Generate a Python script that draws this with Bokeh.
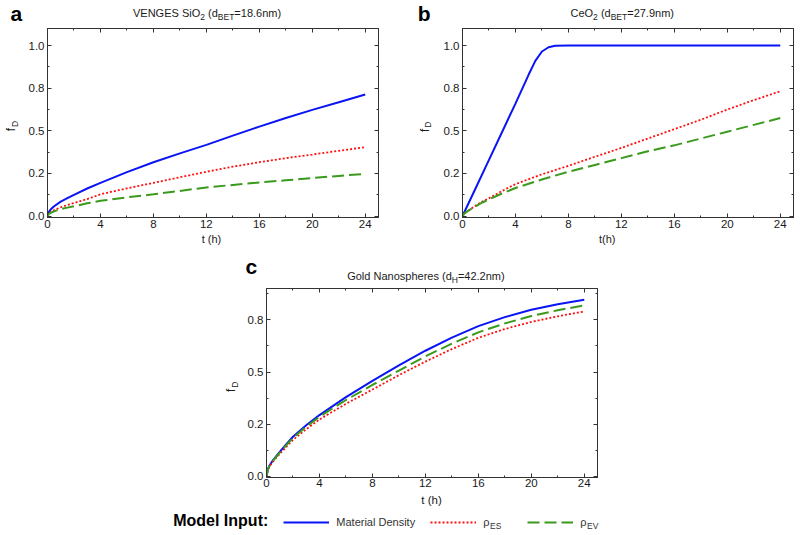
import math
from bokeh.plotting import figure
from bokeh.models import FixedTicker, LinearAxis, Label, Legend, LegendItem, Range1d
from bokeh.layouts import column, row
from bokeh.embed import file_html
from bokeh.resources import INLINE

# ---------------- data ----------------
t = [0, 0.1, 0.25, 0.5, 1, 1.5, 2, 3, 4, 6, 8, 10, 12, 14, 16, 18, 20, 22, 24]

a_md = [0, 0.025, 0.04, 0.058, 0.085, 0.105, 0.125, 0.162, 0.195, 0.258, 0.316, 0.368, 0.418, 0.472, 0.525, 0.575, 0.623, 0.668, 0.713]
a_es = [0, 0.015, 0.025, 0.035, 0.052, 0.065, 0.077, 0.1, 0.128, 0.163, 0.195, 0.228, 0.26, 0.29, 0.316, 0.34, 0.361, 0.383, 0.404]
a_ev = [0, 0.012, 0.02, 0.028, 0.042, 0.05, 0.058, 0.075, 0.09, 0.11, 0.128, 0.148, 0.168, 0.183, 0.197, 0.21, 0.223, 0.236, 0.248]

t_b_md = [0, 1, 2, 3, 4, 5, 5.5, 6, 6.5, 7, 8, 12, 16, 20, 24]
b_md = [0, 0.165, 0.33, 0.495, 0.66, 0.83, 0.91, 0.965, 0.99, 0.999, 1.0, 1.0, 1.0, 1.0, 1.0]
b_es = [0, 0.012, 0.022, 0.035, 0.062, 0.085, 0.105, 0.148, 0.188, 0.245, 0.295, 0.348, 0.4, 0.455, 0.51, 0.565, 0.625, 0.68, 0.732]
b_ev = [0, 0.012, 0.022, 0.035, 0.058, 0.08, 0.098, 0.133, 0.165, 0.215, 0.26, 0.3, 0.34, 0.38, 0.415, 0.455, 0.495, 0.535, 0.575]

c_md = [0, 0.035, 0.055, 0.078, 0.118, 0.155, 0.19, 0.245, 0.294, 0.38, 0.458, 0.532, 0.602, 0.665, 0.72, 0.763, 0.798, 0.825, 0.846]
c_es = [0, 0.032, 0.05, 0.072, 0.108, 0.142, 0.175, 0.226, 0.273, 0.348, 0.416, 0.485, 0.55, 0.61, 0.664, 0.706, 0.74, 0.767, 0.79]
c_ev = [0, 0.034, 0.053, 0.076, 0.114, 0.15, 0.185, 0.238, 0.286, 0.366, 0.438, 0.507, 0.575, 0.636, 0.69, 0.733, 0.768, 0.796, 0.819]

x_ticks = [0, 4, 8, 12, 16, 20, 24]
x_tick_labels = ["0", "4", "8", "12", "16", "20", "24"]
x_minor = [2, 6, 10, 14, 18, 22]
y_ticks_ab = [0, 0.25, 0.5, 0.75, 1]
y_tick_labels_ab = ["0.0", "0.2", "0.5", "0.8", "1.0"]
y_ticks_c = [0, 0.25, 0.5, 0.75]
y_tick_labels_c = ["0.0", "0.2", "0.5", "0.8"]
y_minor = [0.125, 0.375, 0.625, 0.875]

legend_labels = ["Material Density", "ρ", "ρ"]

# ---------------- style / geometry ----------------
FONT = "Liberation Sans"
BLUE = "#0a14f5"
RED = "#ff1010"
GREEN = "#3a9a1c"
AX = "#333333"
TXT = "#1a1a1a"
FW, FH = 331, 189
XR = (0, 25)
YR_AB = (-0.008, 1.1)
YR_C = (-0.005, 0.9)
RED_DASH = "2 2"
GREEN_DASH = "12 5"
MID = 0.35  # baseline-to-middle distance, in em

AW = {' ': 278, 'V': 667, 'E': 667, 'N': 722, 'G': 778, 'S': 667, 'i': 222, 'O': 778,
      '(': 333, ')': 333, 'd': 556, '=': 584, '.': 278, 'n': 556, 'm': 833, 'C': 722,
      'e': 556, 'o': 556, 'l': 222, 'a': 556, 'p': 556, 'h': 556, 'r': 333, 's': 500,
      'B': 667, 'T': 611, 'H': 722}


def tw(s, size):
    return sum(AW.get(c, 556) for c in s) / 1000.0 * size


def mk_axis(ticks, minor, labels, show, standoff):
    ax = LinearAxis(ticker=FixedTicker(ticks=ticks, minor_ticks=minor))
    ax.major_tick_in = 4
    ax.major_tick_out = 0
    ax.minor_tick_in = 2
    ax.minor_tick_out = 0
    ax.axis_line_color = AX
    ax.major_tick_line_color = AX
    ax.minor_tick_line_color = AX
    if show:
        ax.major_label_overrides = {k: v for k, v in zip(ticks, labels)}
        ax.major_label_text_font = FONT
        ax.major_label_text_font_size = "11.5px"
        ax.major_label_text_color = TXT
        ax.major_label_standoff = standoff
    else:
        ax.major_label_overrides = {k: "" for k in ticks}
        ax.major_label_text_font_size = "0px"
        ax.major_label_standoff = 0
    return ax


def panel(lb, tb, rb, bb, yr, yt, ylab, xstand):
    p = figure(frame_width=FW, frame_height=FH,
               min_border_left=lb, min_border_right=rb,
               min_border_top=tb, min_border_bottom=bb,
               x_range=Range1d(*XR), y_range=Range1d(*yr),
               x_axis_type=None, y_axis_type=None, title=None,
               output_backend="svg", toolbar_location=None,
               background_fill_color="white", border_fill_color="white",
               outline_line_color=AX)
    p.add_layout(mk_axis(x_ticks, x_minor, x_tick_labels, True, xstand), "below")
    p.add_layout(mk_axis(x_ticks, x_minor, x_tick_labels, False, 0), "above")
    p.add_layout(mk_axis(yt, y_minor, ylab, True, 3), "left")
    p.add_layout(mk_axis(yt, y_minor, ylab, False, 0), "right")
    return p


class Strip:
    """A text-only figure whose frame fills its canvas; page pixel positions map 1:1."""

    def __init__(self, x0, y0, w, h):
        self.x0, self.y0, self.w, self.h = x0, y0, w, h
        self.fig = figure(width=w, height=h, min_border=0,
                          x_range=Range1d(0, w), y_range=Range1d(0, h),
                          x_axis_type=None, y_axis_type=None, title=None,
                          output_backend="svg", toolbar_location=None,
                          outline_line_color=None, border_fill_color="white",
                          background_fill_color="white")

    def put(self, px, py, text, size, bold=False, align="left", rotated=False, color=TXT):
        # (px, py): start of the text on its baseline, in page pixels
        if rotated:
            cx, cy = px - MID * size, py
        else:
            cx, cy = px, py - MID * size
        self.fig.add_layout(Label(x=cx - self.x0, y=self.y0 + self.h - cy,
                                  x_units="data", y_units="data", text=text,
                                  text_font=FONT, text_font_size=f"{size}px",
                                  text_font_style="bold" if bold else "normal",
                                  text_align=align, text_baseline="middle",
                                  text_line_height=1.0,
                                  angle=math.pi / 2 if rotated else 0.0,
                                  text_color=color))

    def title(self, x0, base, parts):
        x = x0
        for s, sub in parts:
            size = 8.5 if sub else 11
            core = s.lstrip(" ")
            x += tw(s[:len(s) - len(core)], size)
            self.put(x, base + (2.8 if sub else 0), core, size)
            x += tw(core, size)

    def ylabel(self, bx, by):
        self.put(bx, by, "f", 12, rotated=True)
        self.put(bx + 2.5, by - 4.5, "D", 8.5, rotated=True)


# ---------------- layout rows (page px, origin top-left) ----------------
# header strip 0..25
head1 = Strip(0, 0, 800, 25)
head1.put(10, 20, "a", 21, bold=True, color="black")
head1.title(132.5, 16.7, [("VENGES SiO", False), ("2", True), (" (d", False),
                          ("BET", True), ("=18.6nm)", False)])
head1.put(417.3, 20, "b", 21, bold=True, color="black")
head1.title(570, 16.7, [("CeO", False), ("2", True), (" (d", False),
                        ("BET", True), ("=27.9nm)", False)])

# row 1: 25..232
ROW1_H = 3 + FH + 15
lab_a = Strip(0, 25, 20, ROW1_H)
lab_a.ylabel(15, 137.5)
pa = panel(27, 3, 35, 15, YR_AB, y_ticks_ab, y_tick_labels_ab, 2)
pa.line(t, a_md, line_color=BLUE, line_width=2)
pa.line(t, a_es, line_color=RED, line_width=1.8, line_dash=RED_DASH)
pa.line(t, a_ev, line_color=GREEN, line_width=2, line_dash=GREEN_DASH)

lab_b = Strip(413, 25, 20, ROW1_H)
lab_b.ylabel(428.3, 138.3)
pb = panel(29, 3, 7, 15, YR_AB, y_ticks_ab, y_tick_labels_ab, 2)
pb.line(t_b_md, b_md, line_color=BLUE, line_width=2)
pb.line(t, b_es, line_color=RED, line_width=1.8, line_dash=RED_DASH)
pb.line(t, b_ev, line_color=GREEN, line_width=2, line_dash=GREEN_DASH)

# x-label strip 232..253
xl1 = Strip(0, 232, 800, 21)
xl1.put(211, 242, "t (h)", 11, align="center")
xl1.put(606.7, 242, "t(h)", 11, align="center")

# header c 253..285
head2 = Strip(0, 253, 800, 32)
head2.put(245, 273.3, "c", 21, bold=True, color="black")
head2.title(346.7, 279.3, [("Gold Nanospheres (d", False), ("H", True), ("=42.2nm)", False)])

# row 2: 285..492
ROW2_H = 3 + FH + 15
lab_c = Strip(0, 285, 240, ROW2_H)
lab_c.ylabel(235, 398.3)
pc = panel(26, 3, 203, 15, YR_C, y_ticks_c, y_tick_labels_c, 1)
pc.line(t, c_md, line_color=BLUE, line_width=2)
pc.line(t, c_es, line_color=RED, line_width=1.8, line_dash=RED_DASH)
pc.line(t, c_ev, line_color=GREEN, line_width=2, line_dash=GREEN_DASH)

# footer 492..535 (legend: its sample renderers use an off-screen range)
foot = Strip(0, 492, 800, 43)
foot.fig.extra_y_ranges = {"off": Range1d(start=10, end=20)}
foot.put(431, 504, "t (h)", 11.5, align="center")
foot.put(172.7, 526, "Model Input:", 16, bold=True, color="black")
lr_md = foot.fig.line(t, c_md, y_range_name="off", line_color=BLUE, line_width=2)
lr_es = foot.fig.line(t, c_es, y_range_name="off", line_color=RED, line_width=1.8, line_dash=RED_DASH)
lr_ev = foot.fig.line(t, c_ev, y_range_name="off", line_color=GREEN, line_width=2, line_dash=GREEN_DASH)
legend = Legend(items=[LegendItem(label=legend_labels[0], renderers=[lr_md]),
                       LegendItem(label=legend_labels[1], renderers=[lr_es]),
                       LegendItem(label=legend_labels[2], renderers=[lr_ev])],
                orientation="horizontal", location=(283.3, 535 - 521.5 - 7),
                glyph_width=46, glyph_height=14, label_height=14, label_width=29,
                label_standoff=7, spacing=15, padding=0, margin=0,
                border_line_color=None, background_fill_alpha=0,
                label_text_font=FONT, label_text_font_size="11px",
                label_text_color="#333333")
foot.fig.add_layout(legend)
foot.put(489.5, 528.5, "ES", 8.5, color="#333333")
foot.put(586.5, 528.5, "EV", 8.5, color="#333333")

layout = column(
    head1.fig,
    row(lab_a.fig, pa, lab_b.fig, pb),
    xl1.fig,
    head2.fig,
    row(lab_c.fig, pc),
    foot.fig,
)
open("out.html", "w").write(file_html(layout, INLINE))
